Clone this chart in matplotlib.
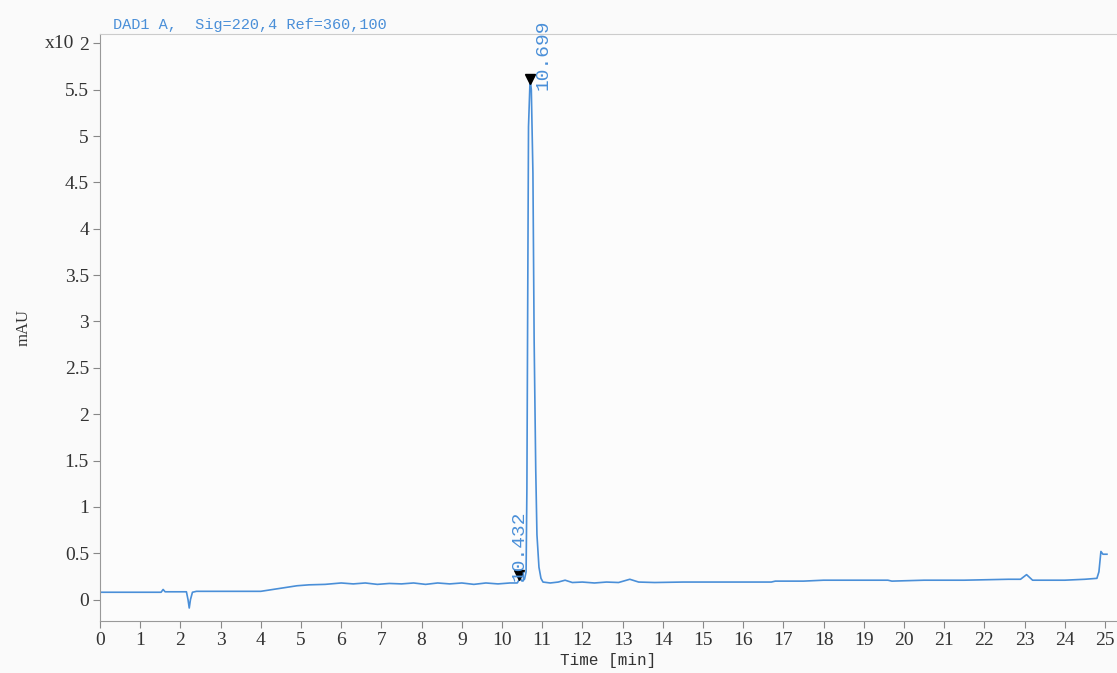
import matplotlib.pyplot as plt

# chromatogram (time in min, signal in mAU x10^2)
time = [0, 1.52, 1.57, 1.62, 2.15, 2.19, 2.22, 2.25, 2.3, 2.4, 3.0, 4.0, 4.3,
        4.6, 4.9, 5.2, 5.6, 6.0, 6.3, 6.6, 6.9, 7.2, 7.5, 7.8, 8.1, 8.4, 8.7,
        9.0, 9.3, 9.6, 9.9, 10.2, 10.38, 10.45, 10.5, 10.56, 10.6, 10.62,
        10.64, 10.66, 10.7, 10.73, 10.77, 10.8, 10.84, 10.87, 10.92, 10.97,
        11.02, 11.2, 11.4, 11.57, 11.75, 12.0, 12.3, 12.6, 12.9, 13.18, 13.4,
        13.8, 14.5, 15.0, 16.7, 16.8, 17.5, 18.0, 19.6, 19.7, 20.5, 21.5,
        22.6, 22.9, 23.05, 23.2, 24.0, 24.5, 24.8, 24.85, 24.9, 24.95, 25.05]
signal = [0.08, 0.08, 0.11, 0.085, 0.085, 0.0, -0.09, 0.0, 0.08, 0.09, 0.09,
          0.09, 0.11, 0.13, 0.15, 0.16, 0.165, 0.18, 0.17, 0.18, 0.165, 0.175,
          0.17, 0.18, 0.165, 0.18, 0.17, 0.18, 0.165, 0.18, 0.17, 0.18, 0.18,
          0.23, 0.2, 0.22, 0.3, 1.2, 3.2, 5.1, 5.62, 5.5, 4.6, 2.8, 1.4, 0.7,
          0.35, 0.23, 0.19, 0.18, 0.19, 0.21, 0.185, 0.19, 0.18, 0.19, 0.185,
          0.22, 0.19, 0.185, 0.19, 0.19, 0.19, 0.2, 0.2, 0.21, 0.21, 0.2, 0.21,
          0.21, 0.22, 0.22, 0.27, 0.21, 0.21, 0.22, 0.23, 0.3, 0.52, 0.49, 0.49]

peak_times = [10.432, 10.699]
peak_heights = [0.27, 5.62]
peak_labels = ['10.432', '10.699']

yticks = [0, 0.5, 1, 1.5, 2, 2.5, 3, 3.5, 4, 4.5, 5, 5.5, 6]
ytick_labels = ['0', '0.5', '1', '1.5', '2', '2.5', '3', '3.5', '4', '4.5',
                '5', '5.5', '2']

serif = 'Liberation Serif'
mono = 'Liberation Mono'
blue = '#4a8fd8'
txt = '#333333'

fig = plt.figure(figsize=(11.17, 6.73), dpi=100, facecolor='#fafafa')
ax = fig.add_axes([100 / 1117, 1 - 621 / 673, 1 - 100 / 1117, (621 - 34) / 673])
ax.set_facecolor('#fcfcfc')

ax.plot(time, signal, color=blue, lw=1.2, zorder=2)
ax.plot(peak_times, peak_heights, 'v', color='black', ms=7, zorder=3)

ax.text(11.02, 5.5, peak_labels[1], rotation=90, color=blue,
        family=mono, fontsize=14, ha='center', va='bottom', clip_on=False)
ax.text(10.43, 0.2, peak_labels[0], rotation=90, color=blue,
        family=mono, fontsize=14, ha='center', va='bottom')

ax.set_xlim(0, 25.3)
ax.set_ylim(-0.23, 6.1)
ax.set_xticks(range(0, 26))
ax.set_yticks(yticks)
ax.set_yticklabels(ytick_labels)

for lab in ax.get_xticklabels() + ax.get_yticklabels():
    lab.set_family(serif)
    lab.set_fontsize(14)
    lab.set_color(txt)
ax.tick_params(direction='out', length=5, color='#888888', pad=3)

ax.spines['right'].set_visible(False)
ax.spines['left'].set_color('#999999')
ax.spines['bottom'].set_color('#999999')
ax.spines['top'].set_color('#cccccc')

ax.text(-1.37, 6.0, 'x10', family=serif, fontsize=14, color=txt,
        ha='left', va='center')
ax.set_xlabel('Time [min]', family=mono, fontsize=11.5, color=txt, labelpad=3)
ax.set_ylabel('mAU', family=serif, fontsize=12, color=txt, labelpad=24)
ax.text(0.32, 6.2, 'DAD1 A,  Sig=220,4 Ref=360,100', family=mono,
        fontsize=11, color=blue, ha='left', va='center')

fig.savefig('out.png', dpi=100, facecolor=fig.get_facecolor())
